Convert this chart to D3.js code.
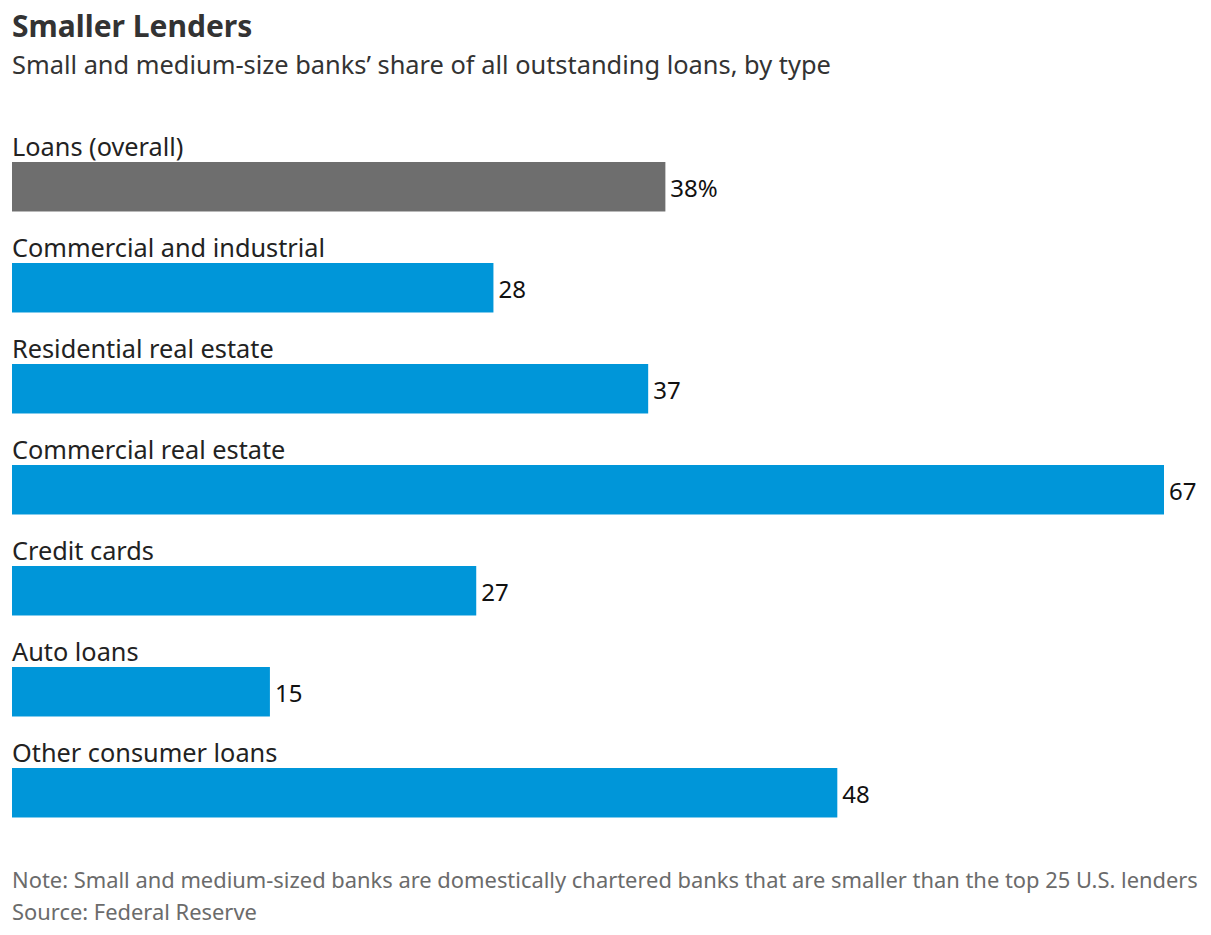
<!DOCTYPE html>
<html>
<head>
<meta charset="utf-8">
<script src="https://cdn.jsdelivr.net/npm/d3@7"></script>
<style>
  body { margin: 0; background: #fff; }
  text { font-family: "Noto Sans", Lato, sans-serif; }
</style>
</head>
<body>
<div id="plot"></div>
<script>
// data
const categories = ["Loans (overall)", "Commercial and industrial", "Residential real estate",
  "Commercial real estate", "Credit cards", "Auto loans", "Other consumer loans"];
const values = [38, 28, 37, 67, 27, 15, 48];
const valueLabels = ["38%", "28", "37", "67", "27", "15", "48"];

const w = 1211;
const h = 935;
const margin = {top: 162, right: 47, bottom: 117, left: 12};
const step = 101;
const barPad = 0.51;

const svg = d3.select("div#plot")
  .append("svg")
    .attr("width", w)
    .attr("height", h);

// title + subtitle
svg.append("text")
  .attr("x", 12).attr("y", 37)
  .attr("fill", "#333")
  .style("font-size", "30px")
  .style("font-weight", "bold")
  .text("Smaller Lenders");

svg.append("text")
  .attr("x", 12).attr("y", 74)
  .attr("fill", "#333")
  .style("font-size", "25.4px")
  .text("Small and medium-size banks\u2019 share of all outstanding loans, by type");

const xScale = d3.scaleLinear()
  .domain([0, 67])
  .range([0, 1164 - margin.left]);

const yScale = d3.scaleBand()
  .domain(categories)
  .range([0, step * (categories.length - barPad)])
  .paddingInner(barPad)
  .paddingOuter(0);

const plot = svg.append("g")
  .attr("id", "plot")
  .attr("transform", `translate (${margin.left}, ${margin.top})`);

const rows = plot.selectAll("g.row")
  .data(categories)
  .enter()
  .append("g")
    .attr("class", "row")
    .attr("transform", d => `translate(0, ${yScale(d)})`);

rows.append("rect")
  .attr("x", 0)
  .attr("y", 0)
  .attr("width", (d, i) => xScale(values[i]))
  .attr("height", yScale.bandwidth())
  .attr("fill", (d, i) => i === 0 ? "#6e6e6e" : "#0096d9");

// category labels above bars
rows.append("text")
  .attr("x", 0)
  .attr("y", -6)
  .attr("fill", "#222")
  .style("font-size", "25.3px")
  .text(d => d);

// value labels
rows.append("text")
  .attr("x", (d, i) => xScale(values[i]) + 5)
  .attr("y", yScale.bandwidth() / 2 + 10)
  .attr("fill", "#111")
  .style("font-size", "24px")
  .text((d, i) => valueLabels[i]);

// footnotes
svg.append("text")
  .attr("x", 12).attr("y", 888)
  .attr("fill", "#6b6b6b")
  .style("font-size", "21.9px")
  .text("Note: Small and medium-sized banks are domestically chartered banks that are smaller than the top 25 U.S. lenders");

svg.append("text")
  .attr("x", 12).attr("y", 920)
  .attr("fill", "#6b6b6b")
  .style("font-size", "21.9px")
  .text("Source: Federal Reserve");
</script>
</body>
</html>
